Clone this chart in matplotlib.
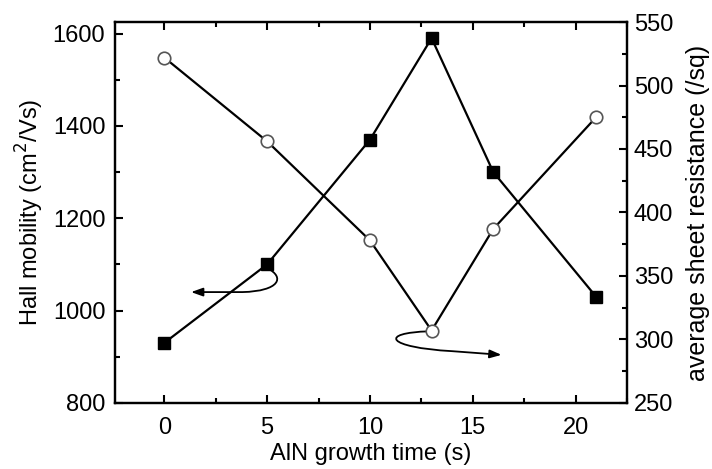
import matplotlib.pyplot as plt
import numpy as np
from matplotlib.path import Path
from matplotlib.patches import FancyArrowPatch
from matplotlib.ticker import MultipleLocator

plt.rcParams['font.family'] = ['Liberation Sans', 'DejaVu Sans']

# data
growth_time = [0, 5, 10, 13, 16, 21]
hall_mobility = [930, 1100, 1370, 1590, 1300, 1030]
sheet_resistance = [522, 456, 378, 307, 387, 475]

fs = 17
fig = plt.figure(figsize=(7.12, 4.69), dpi=100)
ax = fig.add_axes([0.1615, 0.141, 0.719, 0.812])
ax2 = ax.twinx()

ax.plot(growth_time, hall_mobility, color='black', lw=1.6, marker='s',
        ms=8.5, mfc='black', mec='black', zorder=3)
ax2.plot(growth_time, sheet_resistance, color='black', lw=1.6, marker='o',
         ms=9, mfc='white', mec='#555555', mew=1.2, zorder=3)

ax.set_xlim(-2.4, 22.5)
ax.set_ylim(800, 1625)
ax2.set_ylim(250, 550)

ax.xaxis.set_major_locator(MultipleLocator(5))
ax.xaxis.set_minor_locator(MultipleLocator(2.5))
ax.yaxis.set_major_locator(MultipleLocator(200))
ax.yaxis.set_minor_locator(MultipleLocator(100))
ax2.yaxis.set_major_locator(MultipleLocator(50))
ax2.yaxis.set_minor_locator(MultipleLocator(25))

ax.tick_params(axis='x', which='both', direction='in', top=True,
               labelsize=fs, pad=10)
ax.tick_params(axis='y', which='both', direction='in', labelsize=fs, pad=7)
ax.tick_params(which='major', length=6, width=1.5)
ax.tick_params(which='minor', length=3.5, width=1.5)
ax2.tick_params(axis='y', which='both', direction='in', labelsize=fs, pad=5)
ax2.tick_params(which='major', length=6, width=1.5)
ax2.tick_params(which='minor', length=3.5, width=1.5)

for a in (ax, ax2):
    for s in a.spines.values():
        s.set_linewidth(1.6)

ax.set_xlabel('AlN growth time (s)', fontsize=fs, labelpad=3)
ax.set_ylabel('Hall mobility (cm$^2$/Vs)', fontsize=fs, labelpad=5)
ax2.set_ylabel('average sheet resistance (/sq)', fontsize=18, labelpad=9)

# curved arrows pointing to the matching axes
p1 = Path([(5.0, 1092), (5.9, 1072), (5.6, 1042), (3.8, 1040), (1.3, 1040)],
          [Path.MOVETO, Path.CURVE4, Path.CURVE4, Path.CURVE4, Path.LINETO])
ax.add_patch(FancyArrowPatch(path=p1, arrowstyle='-|>,head_length=7,head_width=2.5',
                             color='black', lw=1.3, zorder=4))
p2 = Path([(12.9, 955), (10.4, 952), (10.8, 920), (14.0, 912), (16.4, 904)],
          [Path.MOVETO, Path.CURVE4, Path.CURVE4, Path.CURVE4, Path.LINETO])
ax.add_patch(FancyArrowPatch(path=p2, arrowstyle='-|>,head_length=7,head_width=2.5',
                             color='black', lw=1.3, zorder=4))

fig.savefig('out.png', dpi=100)
